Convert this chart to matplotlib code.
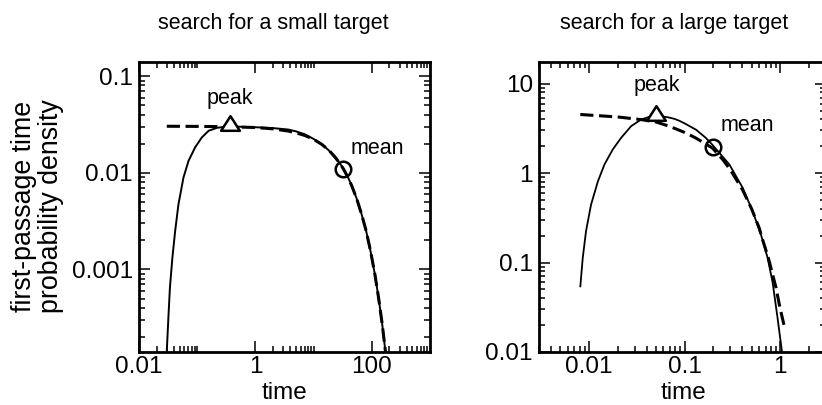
import matplotlib
matplotlib.use("Agg")
import matplotlib.pyplot as plt
from matplotlib.path import Path
from matplotlib.ticker import FixedLocator, FuncFormatter, NullFormatter

plt.rcParams['font.family'] = ['Liberation Sans', 'DejaVu Sans']
plt.rcParams['lines.scale_dashes'] = False

# ---- search for a small target ----
small_time = [0.0300, 0.0320, 0.0340, 0.0375, 0.0418, 0.0476, 0.058, 0.071, 0.092,
              0.120, 0.157, 0.219, 0.30, 0.50, 1.0, 2.0, 3.7, 5.0, 7.1, 10.0, 13.8,
              18.0, 23.3, 28.0, 32.4, 38.0, 45.0, 55.0, 67.0, 80.0, 95.0, 113.0,
              130.0, 150.0, 170.0]
small_density = [1.42e-4, 3.2e-4, 6.5e-4, 1.33e-3, 2.5e-3, 4.7e-3, 8.9e-3, 0.0133, 0.0183,
                 0.0232, 0.0272, 0.0292, 0.0299, 0.0300, 0.0296, 0.0290, 0.0280, 0.0268,
                 0.0250, 0.0224, 0.0197, 0.0172, 0.0143, 0.0126, 0.0111, 0.0093, 0.0074,
                 0.0054, 0.0037, 0.0025, 0.00155, 0.00089, 0.00052, 0.00028, 0.000148]
small_exp_time = [0.030, 0.10, 0.30, 1.0, 2.0, 3.7, 5.0, 7.1, 10.0, 13.8, 18.0, 23.3,
                  28.0, 32.4, 38.0, 45.0, 55.0, 67.0, 80.0, 95.0, 113.0, 130.0, 150.0,
                  170.0, 180.0]
small_exp_density = [0.0303, 0.0302, 0.0300, 0.0294, 0.0285, 0.0270, 0.0259, 0.0243,
                     0.0222, 0.0197, 0.0173, 0.0146, 0.0126, 0.0110, 0.0092, 0.0074,
                     0.0054, 0.0037, 0.0025, 0.00156, 0.00089, 0.00052, 0.00028,
                     0.000149, 0.000109]
small_peak = (0.37, 0.033)
small_mean = (32.4, 0.0109)

# ---- search for a large target ----
large_time = [0.0081, 0.0086, 0.0093, 0.0105, 0.0124, 0.0145, 0.0177, 0.0217, 0.0276,
              0.0351, 0.0428, 0.0545, 0.068, 0.078, 0.088, 0.100, 0.132, 0.165, 0.196,
              0.293, 0.404, 0.513, 0.627, 0.736, 0.830, 0.935, 1.04]
large_density = [0.053, 0.113, 0.224, 0.445, 0.813, 1.25, 1.84, 2.49, 3.36,
                 3.98, 4.27, 4.35, 4.20, 4.05, 3.85, 3.60, 3.05, 2.50, 2.06,
                 1.25, 0.685, 0.375, 0.2055, 0.113, 0.060, 0.024, 0.010]
large_exp_time = [0.0081, 0.020, 0.035, 0.050, 0.070, 0.100, 0.130, 0.160, 0.196, 0.250,
                  0.300, 0.400, 0.500, 0.600, 0.653, 0.750, 0.831, 0.900, 0.976, 1.040,
                  1.100]
large_exp_density = [4.53, 4.25, 3.97, 3.74, 3.33, 2.85, 2.48, 2.17, 1.90, 1.42,
                     1.09, 0.66, 0.40, 0.245, 0.180, 0.112, 0.0733, 0.0525, 0.0338, 0.025,
                     0.0194]
large_peak = (0.050, 4.73)
large_mean = (0.196, 1.95)

titles = ["search for a small target", "search for a large target"]
y_label = "first-passage time\nprobability density"
x_label = "time"

W, H = 822, 405
fig = plt.figure(figsize=(W / 100, H / 100), dpi=100)
ax1 = fig.add_axes([139 / W, 53 / H, 291 / W, 290 / H])
ax2 = fig.add_axes([539 / W, 53 / H, 287 / W, 290 / H])

tri = Path([(-1, -0.78), (1, -0.78), (0, 0.78), (0, 0)], closed=True)


def decade_minors(exps, ks=range(2, 10)):
    return [k * 10.0 ** e for e in exps for k in ks]


def style_axis(ax, xmaj, xmin, ymaj, ymin):
    ax.set_xscale('log')
    ax.set_yscale('log')
    ax.xaxis.set_major_locator(FixedLocator(xmaj))
    ax.xaxis.set_minor_locator(FixedLocator(xmin))
    ax.yaxis.set_major_locator(FixedLocator(ymaj))
    ax.yaxis.set_minor_locator(FixedLocator(ymin))
    fmt = FuncFormatter(lambda v, _: f"{v:g}")
    ax.xaxis.set_major_formatter(fmt)
    ax.yaxis.set_major_formatter(fmt)
    ax.xaxis.set_minor_formatter(NullFormatter())
    ax.yaxis.set_minor_formatter(NullFormatter())
    ax.tick_params(which='both', direction='in', top=True, right=True, width=1.1,
                   color='black')
    ax.tick_params(which='major', length=8, labelsize=17.5, pad=4.5)
    ax.tick_params(axis='x', which='major', pad=3.0)
    ax.tick_params(which='minor', length=4.3)
    for s in ax.spines.values():
        s.set_linewidth(2.0)


def draw_panel(ax, t, p, te, pe, peak, mean, lw):
    ax.plot(t, p, color='black', lw=lw, solid_capstyle='butt')
    ax.plot(te, pe, color='black', lw=2.2, dashes=(9.5, 4.0))
    ax.plot([peak[0]], [peak[1]], marker=tri, ms=13.5, mfc='white', mec='black',
            mew=1.8, ls='none', zorder=5)
    ax.plot([mean[0]], [mean[1]], marker='o', ms=11.2, mfc='none', mec='black',
            mew=1.8, ls='none', zorder=5)


draw_panel(ax1, small_time, small_density, small_exp_time, small_exp_density,
           small_peak, small_mean, 1.4)
style_axis(ax1, [0.01, 1, 100], decade_minors([-2, 0, 2], range(2, 11)),
           [0.001, 0.01, 0.1], decade_minors([-4, -3, -2, -1]))
ax1.set_xlim(0.01, 1000)
ax1.set_ylim(1.4e-4, 0.14)
ax1.text(0.37, 0.0512, "peak", ha='center', va='baseline', fontsize=15.5)
ax1.text(125, 0.0156, "mean", ha='center', va='baseline', fontsize=15.5)

draw_panel(ax2, large_time, large_density, large_exp_time, large_exp_density,
           large_peak, large_mean, 1.3)
style_axis(ax2, [0.01, 0.1, 1], decade_minors([-3, -2, -1, 0]),
           [0.01, 0.1, 1, 10], decade_minors([-2, -1, 0, 1]))
ax2.set_xlim(0.003, 3)
ax2.set_ylim(0.01, 17.5)
ax2.text(0.0513, 8.28, "peak", ha='center', va='baseline', fontsize=15.5)
ax2.text(0.4555, 2.95, "mean", ha='center', va='baseline', fontsize=15.5)

fig.text(273 / W, 1 - 28.5 / H, titles[0], ha='center', va='baseline', fontsize=15.5)
fig.text(674.5 / W, 1 - 28.5 / H, titles[1], ha='center', va='baseline', fontsize=15.5)
fig.text(284.5 / W, 1 - 399 / H, x_label, ha='center', va='baseline', fontsize=17.5)
fig.text(683 / W, 1 - 399 / H, x_label, ha='center', va='baseline', fontsize=17.5)
fig.text(37.5 / W, 1 - 206.5 / H, y_label, ha='center', va='center', rotation=90,
         fontsize=19.3, linespacing=1.08, multialignment='center')

fig.savefig("out.png", dpi=100)
